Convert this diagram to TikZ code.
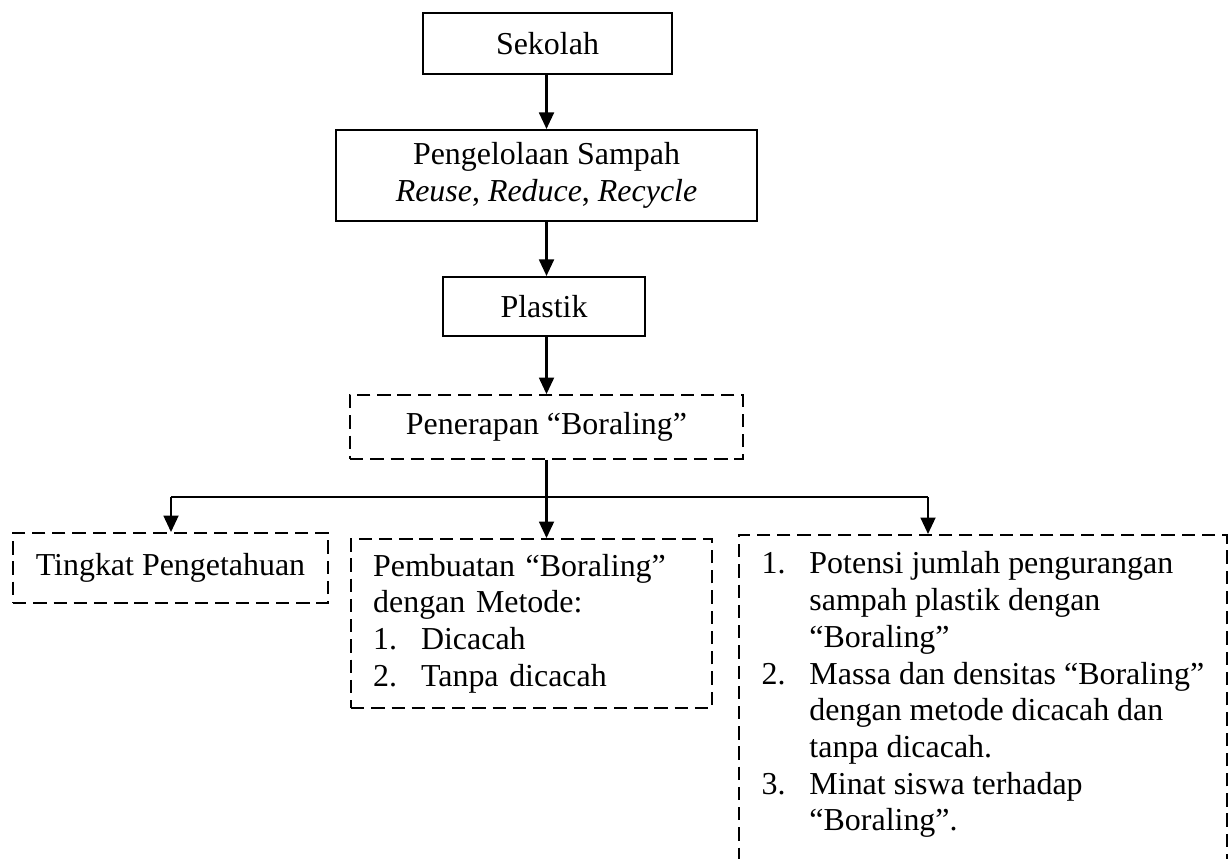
\documentclass[tikz,border=0pt]{standalone}
\usepackage{fontspec}
\setmainfont{Liberation Serif}
\usetikzlibrary{arrows.meta}
\newcommand{\nomor}[1]{\makebox[18pt][l]{#1}}
\newcommand{\gantung}{\hspace*{18pt}}
\begin{document}
\begin{tikzpicture}[x=0.3757pt,y=-0.3757pt,
    font=\fontsize{12}{13.8}\selectfont,
    kotak/.style={draw,line width=0.75pt,inner sep=0pt,align=center},
    kotakputus/.style={draw,line width=0.7pt,dash pattern=on 5pt off 2.6pt,inner sep=0pt},
    panah/.style={line width=0.8pt,-{Triangle[length=6.2pt,width=5.6pt]}}]
      \useasboundingbox (0,0) rectangle (1229,859);
      \draw
        (547.5,43.5) node[kotak,minimum width=93.5pt,minimum height=22.9pt] (sekolah){Sekolah}
        (546.5,175.5) node[kotak,minimum width=158.2pt,minimum height=34.2pt] (pengelolaan){Pengelolaan Sampah\\\textit{Reuse}, \textit{Reduce}, \textit{Recycle}}
        (544,306.5) node[kotak,minimum width=75.9pt,minimum height=22.2pt] (plastik){Plastik}
        (546.5,427) node[kotakputus,minimum width=147.6pt,minimum height=24pt] (penerapan){Penerapan “Boraling”}
        (170.5,568) node[kotakputus,minimum width=118.3pt,minimum height=26.3pt] (tingkat){Tingkat Pengetahuan}
        (531.5,623.5) node[kotakputus,minimum height=63.5pt,inner xsep=8.3pt,text width=119pt,align=left] (pembuatan){Pembuatan “Boraling”\\dengan Metode:\\\nomor{1.}Dicacah\\\nomor{2.}Tanpa dicacah}
        (738,534) node[kotakputus,anchor=north west,minimum width=183.3pt,inner ysep=6.3pt,align=left] (kanan){\nomor{1.}Potensi jumlah pengurangan\\\gantung sampah plastik dengan\\\gantung“Boraling”\\\nomor{2.}Massa dan densitas “Boraling”\\\gantung dengan metode dicacah dan\\\gantung tanpa dicacah.\\\nomor{3.}Minat siswa terhadap\\\gantung“Boraling”.\rule[-14pt]{0pt}{0pt}};
      \coordinate (cabang) at (546.5,497);
      \coordinate (cabangkiri) at (171,497);
      \coordinate (cabangkanan) at (928,497);
      \begin{scope}[panah]
        \draw (sekolah.south -| pengelolaan) to (pengelolaan.north);
        \draw (pengelolaan.south) to (plastik.north -| pengelolaan);
        \draw (plastik.south -| penerapan) to (penerapan.north);
        \draw (penerapan.south) to (cabang |- pembuatan.north);
        \draw (cabangkiri) to (cabangkiri |- tingkat.north);
        \draw (cabangkanan) to (cabangkanan |- kanan.north);
      \end{scope}
      \draw[line width=0.8pt] (cabangkiri) to (cabangkanan);
    \end{tikzpicture}
\end{document}
